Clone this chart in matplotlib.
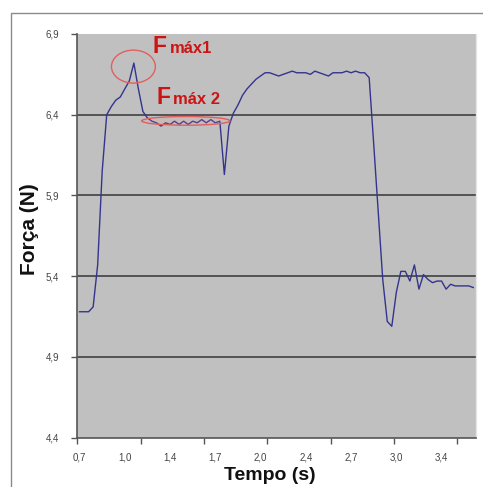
import matplotlib
matplotlib.use("Agg")
import matplotlib.pyplot as plt
from matplotlib.patches import Ellipse, Rectangle

plt.rcParams['font.family'] = ['Liberation Sans', 'DejaVu Sans']

# Force samples (N), one per category of the time axis
forca = [5.18, 5.18, 5.18, 5.21, 5.47, 6.05, 6.40, 6.45, 6.49, 6.51,
         6.56, 6.61, 6.72, 6.56, 6.42, 6.38, 6.36, 6.35, 6.33, 6.35,
         6.34, 6.36, 6.34, 6.36, 6.34, 6.36, 6.35, 6.37, 6.35, 6.37,
         6.35, 6.36, 6.03, 6.33, 6.41, 6.46, 6.52, 6.56, 6.59, 6.62,
         6.64, 6.66, 6.66, 6.65, 6.64, 6.65, 6.66, 6.67, 6.66, 6.66,
         6.66, 6.65, 6.67, 6.66, 6.65, 6.64, 6.66, 6.66, 6.66, 6.67,
         6.66, 6.67, 6.66, 6.66, 6.63, 6.22, 5.80, 5.38, 5.12, 5.09,
         5.30, 5.43, 5.43, 5.37, 5.47, 5.32, 5.41, 5.38, 5.36, 5.37,
         5.37, 5.32, 5.35, 5.34, 5.34, 5.34, 5.34, 5.33]

x_labels = ["0,7", "1,0", "1,4", "1,7", "2,0", "2,4", "2,7", "3,0", "3,4"]
label_every = 10
tick_every = 14

y_ticks = [4.4, 4.9, 5.4, 5.9, 6.4, 6.9]
y_labels = ["4,4", "4,9", "5,4", "5,9", "6,4", "6,9"]

n = len(forca)
idx = list(range(n))

W, H = 483, 487
fig = plt.figure(figsize=(W / 100, H / 100), dpi=100)
fig.patch.set_facecolor('white')

# outer chart border
fig.patches.append(Rectangle((11 / W, -0.1), 1.2, (H - 12.7) / H + 0.1,
                             transform=fig.transFigure, fill=False,
                             edgecolor='#8a8a8a', linewidth=1.0))

ax = fig.add_axes([77.3 / W, 1 - 437.7 / H, 398.2 / W, 403.7 / H])
ax.set_facecolor('#c0c0c0')

for yv in y_ticks[1:-1]:
    ax.axhline(yv, color='#4a4a4a', linewidth=1.3, zorder=1)

ax.plot(idx, forca, color='#34348f', linewidth=1.0, zorder=3)

ax.set_xlim(-0.5, n - 0.5)
ax.set_ylim(y_ticks[0], y_ticks[-1])

ax.set_xticks(list(range(0, label_every * len(x_labels), label_every)))
ax.set_xticklabels(x_labels)
ax.set_xticks([-0.5 + k * tick_every for k in range(int((n) / tick_every) + 1)], minor=True)
ax.tick_params(axis='x', which='major', length=0, pad=11, labelsize=7, labelcolor='#444444')
ax.tick_params(axis='x', which='minor', length=4, width=1, color='#555555', direction='out')

ax.set_yticks(y_ticks)
ax.set_yticklabels(y_labels)
ax.tick_params(axis='y', which='major', length=4.5, width=1, color='#555555',
               direction='out', pad=8.5, labelsize=7, labelcolor='#444444')

for s in ['left', 'bottom']:
    ax.spines[s].set_color('#555555')
    ax.spines[s].set_linewidth(1.2)
ax.spines['top'].set_visible(False)
ax.spines['right'].set_color('#e6e6e6')
ax.spines['right'].set_linewidth(1.0)

ax.set_xlabel('Tempo (s)', fontsize=14, fontweight='bold', color='#111111')
ax.xaxis.label.set_va('center')
ax.xaxis.set_label_coords((269.5 - 77.3) / 398.2, (437.7 - 475) / 403.7)
ax.set_ylabel('Força (N)', fontsize=15, fontweight='bold', color='#111111')
ax.yaxis.label.set_va('center')
ax.yaxis.set_label_coords((29.5 - 77.3) / 398.2, (437.7 - 229) / 403.7)

# annotations
red = '#cc1414'
ax.add_patch(Ellipse((11.9, 6.698), 9.7, 0.204, fill=False, edgecolor='#e06060',
                     linewidth=1.0, zorder=4))
ax.add_patch(Ellipse((23.48, 6.362), 19.5, 0.054, facecolor=(1, 0.6, 0.6, 0.15),
                     edgecolor='#e06060', linewidth=1.0, zorder=4))

def px2data(px, py):
    return ((px - 77.3) / 4.525 - 0.5, 6.9 - (py - 34) / 161.5)

fx, fy = px2data(152, 53.5)
ax.text(fx, fy, 'F', fontsize=16.5, fontweight='bold', color=red, va='baseline', ha='left', zorder=5)
mx, my = px2data(170, 53.5)
ax.text(mx, my, 'máx1', fontsize=12, fontweight='bold', color=red, va='baseline', ha='left', zorder=5)
fx, fy = px2data(156.5, 104)
ax.text(fx, fy, 'F', fontsize=16.5, fontweight='bold', color=red, va='baseline', ha='left', zorder=5)
mx, my = px2data(173.3, 104)
ax.text(mx, my, 'máx 2', fontsize=12, fontweight='bold', color=red, va='baseline', ha='left', zorder=5)

fig.savefig('out.png', dpi=100)
